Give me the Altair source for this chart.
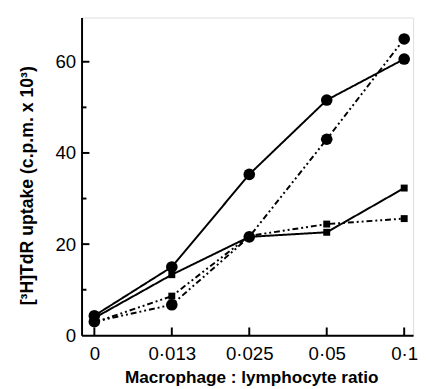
import altair as alt
import pandas as pd

x_labels = ["0", "0·013", "0·025", "0·05", "0·1"]
x_index = [0, 1, 2, 3, 4]

circle_solid = [4.3, 15.0, 35.3, 51.6, 60.6]
circle_dash = [3.0, 6.7, 21.6, 43.0, 65.0]
square_solid = [3.8, 13.3, 21.6, 22.6, 32.3]
square_dash = [2.8, 8.6, 21.8, 24.4, 25.6]

series = [
    ("circle_solid", "circle", "solid", circle_solid),
    ("circle_dash", "circle", "dash", circle_dash),
    ("square_solid", "square", "solid", square_solid),
    ("square_dash", "square", "dash", square_dash),
]

rows = []
for name, shape, style, vals in series:
    for i, v in zip(x_index, vals):
        rows.append({"series": name, "shape": shape, "style": style, "idx": i, "value": v})
df = pd.DataFrame(rows)

label_expr = "[" + ",".join("'%s'" % l for l in x_labels) + "][datum.value]"

W, H = 338, 324
FONT = "Liberation Sans"

x_enc = alt.X("idx:Q", scale=alt.Scale(domain=[-0.165, 4.115], nice=False, zero=False),
              axis=alt.Axis(values=x_index, labelExpr=label_expr, ticks=False, grid=False,
                            domainWidth=2, domainColor="black", labelFontSize=19,
                            labelFont=FONT, labelColor="black", labelPadding=10,
                            title="Macrophage : lymphocyte ratio", titleFont=FONT,
                            titleFontSize=17.5, titleFontWeight="bold", titleColor="black",
                            titleBaseline="alphabetic", titleY=48, titleX=173))
y_enc = alt.Y("value:Q", scale=alt.Scale(domain=[0, 69.7], nice=False),
              axis=alt.Axis(values=[0, 20, 40, 60], ticks=False, grid=False,
                            domainWidth=2, domainColor="black", labelFontSize=19,
                            labelFont=FONT, labelColor="black", labelPadding=6,
                            title="[³H]TdR uptake (c.p.m. x 10³)", titleFont=FONT,
                            titleFontSize=18, titleFontWeight="bold", titleColor="black",
                            titleAngle=270, titleBaseline="alphabetic", titleX=-50, titleY=171))

base = alt.Chart(df)

lines = base.mark_line(color="black", strokeWidth=2).encode(
    x=x_enc, y=y_enc, detail="series:N",
    strokeDash=alt.StrokeDash("style:N", scale=alt.Scale(domain=["solid", "dash"],
                              range=[[1, 0], [6, 3, 2, 3, 2, 3]]), legend=None),
)

points = base.mark_point(filled=True, color="black", opacity=1).encode(
    x="idx:Q", y="value:Q",
    shape=alt.Shape("shape:N", scale=alt.Scale(domain=["circle", "square"], range=["circle", "square"]), legend=None),
    size=alt.Size("shape:N", scale=alt.Scale(domain=["circle", "square"], range=[140, 50]), legend=None),
)

major_ticks = pd.DataFrame({"v": [20, 40, 60]})
minor_ticks = pd.DataFrame({"v": [10, 30, 50]})
xticks = pd.DataFrame({"idx": x_index})

ymaj = alt.Chart(major_ticks).mark_rule(color="black", strokeWidth=2).encode(
    y="v:Q", x=alt.value(0), x2=alt.value(8))
ymin = alt.Chart(minor_ticks).mark_rule(color="black", strokeWidth=2).encode(
    y="v:Q", x=alt.value(0), x2=alt.value(5))
xt = alt.Chart(xticks).mark_rule(color="black", strokeWidth=2).encode(
    x="idx:Q", y=alt.value(H), y2=alt.value(H - 8))

chart = alt.layer(lines, points, ymaj, ymin, xt).properties(
    width=W, height=H,
    autosize=alt.AutoSizeParams(type="none"),
    padding={"left": 75, "top": 6, "right": 5, "bottom": 51},
).configure_view(stroke=None).configure(background="white")

chart.save("out.html", embed_options={"renderer": "svg", "actions": False})
